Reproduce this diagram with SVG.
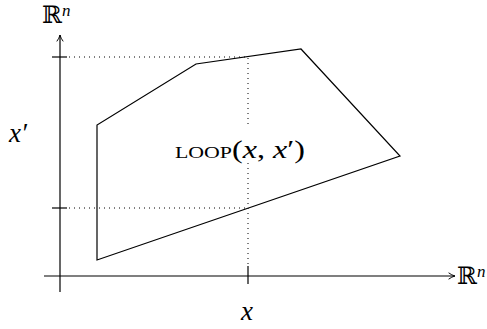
<svg xmlns="http://www.w3.org/2000/svg" width="487" height="329" viewBox="0 0 487 329">
<style>
.ax{stroke:#000;stroke-width:1.2;fill:none}
.dot{stroke:#000;stroke-width:1;stroke-dasharray:1 4;fill:none}
.tk{stroke:#000;stroke-width:1.2}
.t{font-family:"Liberation Serif","DejaVu Serif",serif;fill:#000}
.i{font-style:italic}
</style>
<defs>
<marker id="arr" viewBox="0 0 10 10" refX="9" refY="5" markerWidth="8" markerHeight="8" markerUnits="userSpaceOnUse" orient="auto">
<path d="M1,1 Q5,4 9,5 Q5,6 1,9" fill="none" stroke="#000" stroke-width="1.2"/>
</marker>
</defs>
<g id="connectors">
<line class="ax" x1="44" y1="276" x2="455" y2="276" marker-end="url(#arr)"/>
<line class="ax" x1="60" y1="292" x2="60" y2="35" marker-end="url(#arr)"/>
<line class="tk" x1="52" y1="57" x2="67" y2="57"/>
<line class="tk" x1="52" y1="208" x2="67" y2="208"/>
<line class="tk" x1="248" y1="266" x2="248" y2="284"/>
<line class="dot" x1="69" y1="57" x2="248" y2="57"/>
<line class="dot" x1="69" y1="208" x2="248" y2="208"/>
<line class="dot" x1="248" y1="58" x2="248" y2="266"/>
</g>
<g id="region">
<polygon points="97,260 97,125 196,64 301,49 400,156" fill="none" stroke="#000" stroke-width="1.2"/>
<rect x="170" y="124" width="140" height="38" fill="#fff"/>
<text class="t" x="175" y="158" font-size="25" textLength="130" lengthAdjust="spacingAndGlyphs"><tspan font-size="17">LOOP</tspan>(<tspan class="i">x</tspan>, <tspan class="i">x</tspan>′)</text>
</g>
<g id="labels">
<text class="t" x="42" y="23" font-size="24">ℝ<tspan class="i" font-size="17" dy="-7">n</tspan></text>
<text class="t" x="457" y="284" font-size="24">ℝ<tspan class="i" font-size="17" dy="-7">n</tspan></text>
<text class="t i" x="9" y="142" font-size="27">x′</text>
<text class="t i" x="241" y="320" font-size="27">x</text>
</g>
</svg>
